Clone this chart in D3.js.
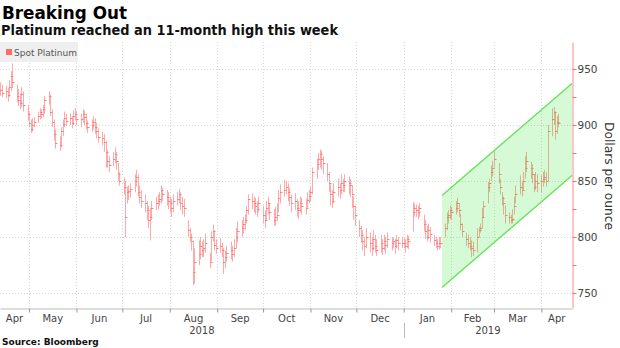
<!DOCTYPE html>
<html><head><meta charset="utf-8">
<script src="https://cdn.jsdelivr.net/npm/d3@7"></script>
<style>body{margin:0;background:#fff}svg{display:block}</style>
</head><body>
<svg id="chart" width="620" height="348"></svg>
<script>
// ---- DATA (daily spot platinum, weekdays 2018-04-12 .. 2019-04-12) ----
const firstDay = "2018-04-12";
const lastDay = "2019-04-12";
const highs = [
 938,936,
 935,933,940,948,955, 936,932,928,934,930, 918,912,905,906,907, 912,915,914,918,926,
 930,927,914,905,896, 890,898,905,912,910, 910,908,913,915,912, 910,914,913,910,904,
 905,908,906,902,897, 894,892,886,878,872, 876,880,876,866,858, 853,850,845,846,848,
 856,860,856,846,842, 838,832,828,826,832, 836,838,840,846,844, 842,840,836,834,838,
 840,843,840,836,834, 815,808,803,797,790, 797,800,796,798,803, 786,805,811,806,798,
 799,795,790,788,792, 796,792,798,808,814, 815,818,820,828,838, 839,836,835,832,836,
 828,824,832,836,830, 825,827,830,842,847, 851,850,848,844,838, 839,834,832,836,835,
 834,840,842,845,862, 870,875,878,877,872, 866,858,847,842,848, 852,848,856,852,856,
 854,852,846,836,828, 815,810,806,800,808, 804,800,806,802,798, 802,798,802,800,804,
 800,799,798,802,800, 800,799,798,802,801, 831,830,829,828,830, 820,815,810,812,809,
 802,800,798,800,800, 812,822,824,828,827, 832,835,830,821,812, 804,802,800,797,796,
 808,809,812,826,832, 849,852,864,868,877, 866,852,840,836,828, 822,820,825,836,846,
 855,850,858,872,876, 867,865,856,858,856, 855,858,860,858,900, 915,916,912,908,910
];
const lows = [
 926,925,
 924,921,925,930,933, 920,917,914,916,912, 904,898,893,894,898, 902,905,906,907,910,
 918,908,898,886,879, 877,880,890,898,899, 900,897,900,904,900, 898,902,900,896,893,
 894,896,892,888,884, 882,876,862,862,858, 863,866,860,850,846, 838,800,830,833,835,
 840,845,836,830,826, 822,815,808,797,815, 824,825,828,830,832, 828,825,822,818,822,
 828,830,824,820,818, 800,796,788,757,758, 775,780,782,782,786, 772,778,796,788,785,
 786,782,767,772,778, 780,778,782,790,795, 800,803,806,812,820, 825,822,820,818,822,
 812,808,815,820,815, 810,810,814,822,830, 836,838,832,828,822, 824,818,816,822,820,
 820,825,830,832,838, 852,860,862,860,856, 850,840,828,826,830, 836,834,838,840,840,
 838,836,826,815,810, 800,795,788,783,790, 786,783,788,786,783, 786,784,788,785,790,
 788,790,785,790,788, 790,790,786,790,789, 805,818,818,816,818, 805,798,796,798,795,
 792,790,788,789,790, 800,806,812,816,815, 820,822,818,806,800, 792,790,788,782,783,
 786,800,804,808,818, 830,840,850,854,862, 848,838,828,820,812, 812,812,812,820,830,
 838,836,842,852,858, 852,848,840,842,840, 840,845,848,845,850, 890,900,887,892,898
];
const closes = [
 931,929,
 930,927,934,944,938, 926,922,920,928,918, 910,902,896,900,903, 908,912,910,914,922,
 926,912,903,892,884, 882,895,901,906,904, 906,902,908,910,905, 905,910,907,902,898,
 900,903,898,895,889, 888,885,876,868,864, 870,874,868,856,850, 845,818,840,841,843,
 850,854,840,836,832, 830,824,815,818,826, 830,832,834,842,838, 836,832,830,826,832,
 834,838,830,828,826, 806,800,796,769,778, 785,792,788,790,795, 778,800,805,793,790,
 792,788,778,782,786, 788,785,790,800,805, 808,812,815,824,834, 832,830,828,825,830,
 820,815,826,830,822, 815,818,820,835,840, 842,845,840,836,830, 832,826,824,830,828,
 826,833,837,840,858, 865,870,874,870,866, 856,848,838,832,840, 845,842,848,846,850,
 848,846,838,828,820, 808,802,796,792,800, 795,790,798,792,788, 795,790,796,793,798,
 795,796,792,797,795, 795,795,792,798,796, 822,826,824,822,826, 812,805,800,806,803,
 797,795,792,795,795, 808,818,820,824,822, 826,830,824,812,805, 798,795,792,790,788,
 800,806,808,818,828, 845,848,858,862,870, 856,845,835,830,820, 818,815,816,828,838,
 845,842,850,862,868, 862,856,845,850,848, 850,852,854,850,895, 905,912,895,903,902
];
const seriesName = "Spot Platinum";
const priceTicks = [750, 775, 800, 825, 850, 875, 900, 925, 950];
const priceGrid = [750, 800, 850, 900, 950];
const yearLabels = ["2018", "2019"];
const channelDates = ["2019-01-26", "2019-04-21"];
const channelUpper = [837, 937];
const channelLower = [755, 855];
const domainDates = ["2018-04-12", "2019-04-21"];
const priceDomain = [736.6, 974.1];

// ---- LAYOUT ----
const plot = {left: 0, right: 572, top: 42, bottom: 308};
const svg = d3.select("#chart");
const parse = d3.utcParse("%Y-%m-%d");

const days = d3.utcDay.range(parse(firstDay), d3.utcDay.offset(parse(lastDay), 1))
  .filter(d => d.getUTCDay() !== 0 && d.getUTCDay() !== 6);
if (days.length !== closes.length) console.error("length mismatch", days.length, closes.length);

const x = d3.scaleUtc().domain(domainDates.map(parse)).range([plot.left, plot.right]);
const y = d3.scaleLinear().domain(priceDomain).range([plot.bottom, plot.top]);

const monthStarts = d3.utcMonth.range(d3.utcMonth.ceil(x.domain()[0]), x.domain()[1]);

// grid
const grid = svg.append("g").attr("stroke", "#d9d9d9").attr("stroke-dasharray", "1,2").attr("stroke-width", 1);
grid.selectAll("line.gh").data(priceGrid).join("line").attr("class", "gh")
  .attr("x1", plot.left).attr("x2", plot.right)
  .attr("y1", d => Math.round(y(d)) + 0.5).attr("y2", d => Math.round(y(d)) + 0.5);
grid.selectAll("line.gv").data(monthStarts).join("line").attr("class", "gv")
  .attr("x1", d => Math.round(x(d)) + 0.5).attr("x2", d => Math.round(x(d)) + 0.5)
  .attr("y1", plot.top).attr("y2", plot.bottom);

// legend box
const leg = svg.append("g");
leg.append("rect").attr("x", 0).attr("y", 42).attr("width", 78).attr("height", 20).attr("fill", "#efefef");
leg.append("rect").attr("x", 6).attr("y", 49).attr("width", 6).attr("height", 6).attr("fill", "#ff6b6b");
leg.append("text").attr("x", 14).attr("y", 56).attr("font-family", "DejaVu Sans").attr("font-size", 9)
  .attr("fill", "#555").text(seriesName);

// bars
svg.append("clipPath").attr("id", "clip").append("rect")
  .attr("x", plot.left).attr("y", plot.top).attr("width", plot.right - plot.left).attr("height", plot.bottom - plot.top);
const bars = svg.append("g").attr("clip-path", "url(#clip)");
const bx = d => Math.round(x(d)) + 0.5;
bars.selectAll("line.hl").data(days).join("line").attr("class", "hl")
  .attr("x1", bx).attr("x2", bx)
  .attr("y1", (d, i) => y(highs[i])).attr("y2", (d, i) => y(lows[i]))
  .attr("stroke", "#ffaaaa").attr("stroke-width", 1);
bars.selectAll("line.cl").data(days).join("line").attr("class", "cl")
  .attr("x1", d => bx(d) - 0.5).attr("x2", d => bx(d) + 2)
  .attr("y1", (d, i) => Math.round(y(closes[i])) + 0.5).attr("y2", (d, i) => Math.round(y(closes[i])) + 0.5)
  .attr("stroke", "#ff8080").attr("stroke-width", 1);

// channel
const cd = channelDates.map(parse);
const poly = [[x(cd[0]), y(channelUpper[0])], [x(cd[1]), y(channelUpper[1])],
              [x(cd[1]), y(channelLower[1])], [x(cd[0]), y(channelLower[0])]];
svg.append("polygon").attr("points", poly.map(p => p.join(",")).join(" "))
  .attr("fill", "rgb(0,225,0)").attr("fill-opacity", 0.165);
const lineGen = d3.line().x(d => x(d[0])).y(d => y(d[1]));
[channelUpper, channelLower].forEach(vals => {
  svg.append("path").attr("d", lineGen(cd.map((d, i) => [d, vals[i]])))
    .attr("fill", "none").attr("stroke", "#62e255").attr("stroke-width", 1.3);
});

// bottom axis
const xAxis = svg.append("g").attr("transform", `translate(0,${plot.bottom + 0.5})`)
  .call(d3.axisBottom(x).tickValues(monthStarts).tickFormat("").tickSize(4).tickSizeOuter(0));
xAxis.select(".domain").attr("stroke", "#bbb");
xAxis.selectAll(".tick line").attr("stroke", "#999");

// month labels centred in visible month span
const [d0, d1] = x.domain();
const monthSpans = [d3.utcMonth.floor(d0), ...monthStarts].map(m => {
  const a = m < d0 ? d0 : m;
  const nx = d3.utcMonth.offset(m, 1);
  const b = nx > d1 ? d1 : nx;
  return {m, cx: (x(a) + x(b)) / 2};
});
svg.append("g").selectAll("text").data(monthSpans).join("text")
  .attr("x", d => d.cx).attr("y", 322).attr("text-anchor", "middle")
  .attr("font-family", "DejaVu Sans").attr("font-size", 10).attr("fill", "#444")
  .text(d => d3.utcFormat("%b")(d.m));

// year labels + separator
const yearBreak = x(parse("2019-01-01"));
svg.append("line").attr("x1", Math.round(yearBreak) + 0.5).attr("x2", Math.round(yearBreak) + 0.5)
  .attr("y1", 323).attr("y2", 338).attr("stroke", "#bbb");
svg.append("text").attr("x", (plot.left + yearBreak) / 2).attr("y", 334).attr("text-anchor", "middle")
  .attr("font-family", "DejaVu Sans").attr("font-size", 10).attr("fill", "#444").text(yearLabels[0]);
svg.append("text").attr("x", (yearBreak + plot.right) / 2).attr("y", 334).attr("text-anchor", "middle")
  .attr("font-family", "DejaVu Sans").attr("font-size", 10).attr("fill", "#444").text(yearLabels[1]);

// right axis
const yAxis = svg.append("g").attr("transform", `translate(${plot.right + 0.5},0)`)
  .call(d3.axisRight(y).tickValues(priceTicks).tickSize(4).tickSizeOuter(0)
    .tickFormat(d => d % 50 === 0 ? d : ""));
yAxis.select(".domain").attr("stroke", "#ff8c8c");
yAxis.selectAll(".tick line").attr("stroke", "#ff6b6b");
yAxis.selectAll(".tick text").attr("font-family", "DejaVu Sans").attr("font-size", 10.5)
  .attr("fill", "#444").attr("x", 5);

svg.append("text").attr("transform", `translate(605,176) rotate(90)`).attr("text-anchor", "middle")
  .attr("font-family", "DejaVu Sans").attr("font-size", 11.5).attr("fill", "#333")
  .attr("textLength", 108).attr("lengthAdjust", "spacingAndGlyphs").text("Dollars per ounce");

// titles
svg.append("text").attr("x", 2).attr("y", 18.5).attr("font-family", "DejaVu Sans").attr("font-weight", "bold")
  .attr("font-size", 17).attr("fill", "#000").attr("textLength", 125).attr("lengthAdjust", "spacingAndGlyphs")
  .text("Breaking Out");
svg.append("text").attr("x", 1).attr("y", 35).attr("font-family", "DejaVu Sans").attr("font-weight", "bold")
  .attr("font-size", 13.5).attr("fill", "#111").attr("textLength", 337).attr("lengthAdjust", "spacingAndGlyphs")
  .text("Platinum reached an 11-month high this week");
svg.append("text").attr("x", 2).attr("y", 345).attr("font-family", "DejaVu Sans").attr("font-weight", "bold")
  .attr("font-size", 9).attr("fill", "#111").text("Source: Bloomberg");
</script>
</body></html>
